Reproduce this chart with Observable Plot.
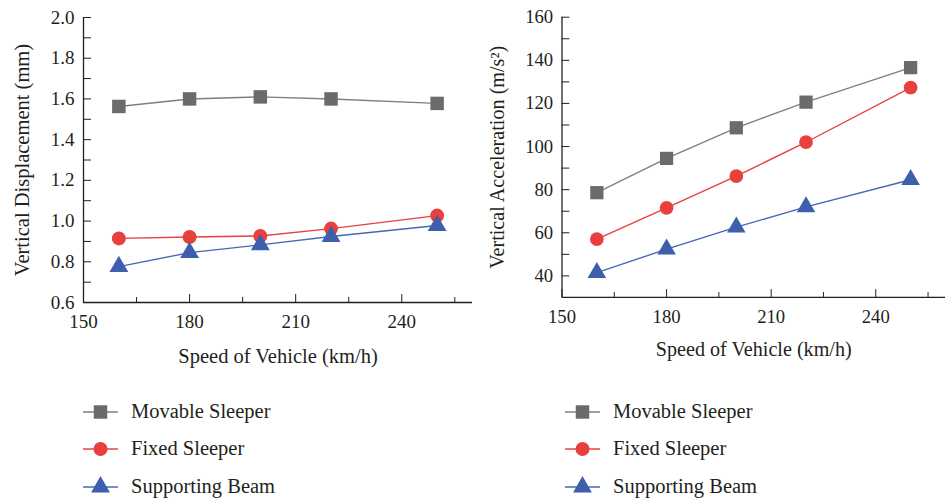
<!DOCTYPE html>
<html><head><meta charset="utf-8">
<script src="https://cdn.jsdelivr.net/npm/d3@7"></script>
<script src="https://cdn.jsdelivr.net/npm/@observablehq/plot@0.6"></script>
<style>
html,body{margin:0;padding:0;background:#fff;overflow:hidden;width:945px;height:502px}
#wrap{position:relative;width:945px;height:502px;font-family:"Liberation Serif",serif;color:#231f20;overflow:hidden}
.chart{position:absolute;top:0}
.chart svg{overflow:visible}
g[aria-label$="axis label"]{font-size:20.5px}
.legend{position:absolute;top:0}
.row{position:absolute;left:0;height:30px;display:flex;align-items:center;white-space:nowrap;font-size:20.5px}
.row svg{margin-right:13px}
</style></head><body><div id="wrap"></div>
<script>
// ---- data ----
const speeds = [160, 180, 200, 220, 250];
const seriesNames = ["Movable Sleeper", "Fixed Sleeper", "Supporting Beam"];
const dispMovable = [1.563, 1.600, 1.610, 1.600, 1.578];
const dispFixed   = [0.915, 0.922, 0.927, 0.963, 1.027];
const dispBeam    = [0.776, 0.845, 0.883, 0.924, 0.978];
const accMovable  = [78.6, 94.5, 108.7, 120.6, 136.6];
const accFixed    = [57.1, 71.6, 86.3, 102.0, 127.3];
const accBeam     = [41.5, 52.4, 62.6, 72.0, 84.6];
const xTicks = [150, 180, 210, 240];
const xMinorTicks = [165, 195, 225, 255];
const dispTicks = [0.6, 0.8, 1.0, 1.2, 1.4, 1.6, 1.8, 2.0];
const dispMinorTicks = [0.7, 0.9, 1.1, 1.3, 1.5, 1.7, 1.9];
const accTicks = [40, 60, 80, 100, 120, 140, 160];
const accMinorTicks = [50, 70, 90, 110, 130, 150];
const xTitle = "Speed of Vehicle (km/h)";
const dispTitle = "Vertical Displacement (mm)";
const accTitle = "Vertical Acceleration (m/s²)";

// ---- styles ----
const lineColors = ["#7f7f7f", "#e8403f", "#4468b2"];
const markerColors = ["#6b6b6b", "#e8403f", "#3d5fae"];
const symbols = ["square", "circle", "triangle"];
const markerR = [7.6, 7, 7];
const ink = "#231f20";

function chart({series, yDomain, yTicks, yMinor, yTitle, yFormat, width, marginLeft, marginRight, yLabelOffset, xDomain}) {
  const marks = [
    Plot.ruleX([xDomain[0]], {stroke: ink, strokeWidth: 1.3}),
    Plot.ruleY([yDomain[0]], {stroke: ink, strokeWidth: 1.3}),
    Plot.axisX(xTicks, {tickSize: -8, fill: "none", stroke: ink, label: null}),
    Plot.axisX(xMinorTicks, {tickSize: -5, fill: "none", stroke: ink, label: null}),
    Plot.axisX(xTicks, {tickSize: 0, tickPadding: 12, fill: ink, label: xTitle, labelAnchor: "center", labelOffset: 60, labelArrow: "none"}),
    Plot.axisY(yTicks, {tickSize: -8, fill: "none", stroke: ink, label: null}),
    Plot.axisY(yMinor, {tickSize: -8, fill: "none", stroke: ink, label: null}),
    Plot.axisY(yTicks, {tickSize: 0, tickPadding: 9, fill: ink, label: yTitle, labelAnchor: "center", labelOffset: yLabelOffset, labelArrow: "none", tickFormat: yFormat})
  ];
  series.forEach((vals, k) => {
    const data = speeds.map((s, i) => ({speed: s, value: vals[i]}));
    marks.push(Plot.line(data, {x: "speed", y: "value", stroke: lineColors[k], strokeWidth: 1.4}));
    marks.push(Plot.dot(data, {x: "speed", y: "value", symbol: () => symbols[k], fill: markerColors[k], stroke: "none", r: markerR[k]}));
  });
  return Plot.plot({
    width, height: 380,
    marginLeft, marginRight, marginTop: 17, marginBottom: 78,
    style: {fontFamily: '"Liberation Serif", serif', fontSize: "19px", color: ink, background: "transparent"},
    x: {domain: xDomain},
    y: {domain: yDomain},
    symbol: {type: "identity"},
    marks
  });
}

const wrap = document.getElementById("wrap");
function place(el, left) {
  const d = document.createElement("div");
  d.className = "chart";
  d.style.left = left + "px";
  d.appendChild(el);
  wrap.appendChild(d);
}
place(chart({series: [dispMovable, dispFixed, dispBeam], yDomain: [0.6, 2.0], yTicks: dispTicks, yMinor: dispMinorTicks, yTitle: dispTitle, yFormat: d3.format(".1f"), width: 473, marginLeft: 83, marginRight: 1, yLabelOffset: 69, xDomain: [150, 260]}), 0);
place(chart({series: [accMovable, accFixed, accBeam], yDomain: [30, 160], yTicks: accTicks, yMinor: accMinorTicks, yTitle: accTitle, yFormat: d3.format("d"), width: 480, marginLeft: 90, marginRight: 0, yLabelOffset: 74, xDomain: [150, 260]}), 473);

// ---- legends ----
const symFns = {square: d3.symbolSquare, circle: d3.symbolCircle, triangle: d3.symbolTriangle};
function legend(left) {
  const lg = document.createElement("div");
  lg.className = "legend";
  lg.style.left = left + "px";
  const rowsY = [411.5, 448.5, 486.5];
  seriesNames.forEach((name, k) => {
    const row = document.createElement("div");
    row.className = "row";
    row.style.top = (rowsY[k] - 15) + "px";
    const svg = d3.create("svg").attr("width", 35).attr("height", 30);
    svg.append("line").attr("x1", 0).attr("x2", 35).attr("y1", 15).attr("y2", 15).attr("stroke", lineColors[k]).attr("stroke-width", 1.4);
    svg.append("path").attr("transform", "translate(17.5,15)").attr("fill", markerColors[k])
      .attr("d", d3.symbol(symFns[symbols[k]], Math.PI * markerR[k] * markerR[k])());
    row.appendChild(svg.node());
    const span = document.createElement("span");
    span.textContent = name;
    row.appendChild(span);
    lg.appendChild(row);
  });
  wrap.appendChild(lg);
}
legend(83);
legend(565);
</script></body></html>
